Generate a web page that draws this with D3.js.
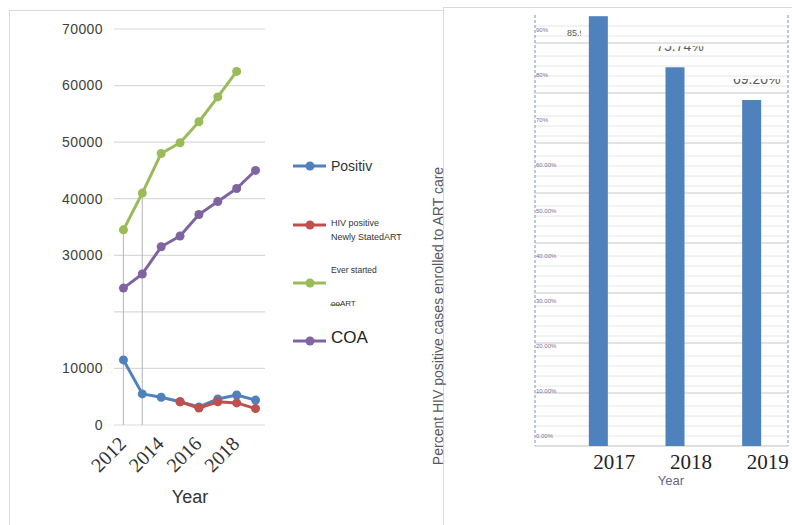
<!DOCTYPE html>
<html>
<head>
<meta charset="utf-8">
<script src="https://cdn.jsdelivr.net/npm/d3@7"></script>
<style>
  body { margin: 0; background: #fff; }
  svg { display: block; font-family: "Liberation Sans", Arial, sans-serif; }
</style>
</head>
<body>
<div id="chart"></div>
<script>
// Left chart data
const years = [2012, 2013, 2014, 2015, 2016, 2017, 2018, 2019];
const positiv = [11500, 5500, 4900, 4100, 3200, 4600, 5300, 4400];
const newlyStarted = [null, null, null, 4100, 3000, 4100, 3900, 2900];
const everStarted = [34500, 41000, 48000, 49900, 53600, 58000, 62500, null];
const coa = [24200, 26700, 31500, 33400, 37200, 39500, 41800, 45000];
const dropYears = [2012, 2013];
const leftTicks = [0, 10000, 30000, 40000, 50000, 60000, 70000];
const gridValues = [0, 10000, 20000, 30000, 40000, 50000, 60000, 70000];
const xTickYears = [2012, 2014, 2016, 2018];

// Right chart data
const barYears = ["2017", "2018", "2019"];
const enrolledPct = [85.96, 75.74, 69.20];
const barLabels = ["85.96%", "75.74%", "69.20%"];
const pctTicks = [0, 10, 20, 30, 40, 50, 60, 70, 80, 90];
const pctTickLabels = ["0.00%", "10.00%", "20.00%", "30.00%", "40.00%", "50.00%", "60.00%", "70%", "80%", "90%"];

const width = 792, height = 525;
const svg = d3.select("#chart").append("svg")
    .attr("width", width)
    .attr("height", height);

// panel frames
svg.append("rect").attr("x", 9.5).attr("y", 10.5).attr("width", 434).attr("height", 530)
    .attr("fill", "none").attr("stroke", "#d9d9d9");
svg.append("rect").attr("x", 443.5).attr("y", 7.5).attr("width", 360).attr("height", 530)
    .attr("fill", "none").attr("stroke", "#d9d9d9");

// ---------- Left line chart ----------
const x = d3.scaleBand().domain(years).range([114, 265]);
const cx = d => x(d) + x.bandwidth() / 2;
const y = d3.scaleLinear().domain([0, 70000]).range([425, 29]);

const left = svg.append("g");

left.selectAll(".grid")
    .data(gridValues)
    .join("line")
    .attr("class", "grid")
    .attr("x1", 114).attr("x2", 265)
    .attr("y1", d => y(d)).attr("y2", d => y(d))
    .attr("stroke", "#d9d9d9").attr("stroke-width", 1.2);

left.selectAll(".ytick")
    .data(leftTicks)
    .join("text")
    .attr("class", "ytick")
    .attr("x", 103)
    .attr("y", d => y(d))
    .attr("dy", "0.35em")
    .attr("text-anchor", "end")
    .attr("font-size", 14)
    .attr("letter-spacing", 0.4)
    .attr("fill", "#404040")
    .text(d => d);

// drop lines from the first green points
left.selectAll(".drop")
    .data(dropYears)
    .join("line")
    .attr("class", "drop")
    .attr("x1", d => cx(d)).attr("x2", d => cx(d))
    .attr("y1", d => y(everStarted[years.indexOf(d)]))
    .attr("y2", y(0))
    .attr("stroke", "#bfbfbf").attr("stroke-width", 1.2);

const series = [
    { name: "Positiv", values: positiv, color: "#4F81BD" },
    { name: "Newly", values: newlyStarted, color: "#C0504D" },
    { name: "Ever", values: everStarted, color: "#9BBB59" },
    { name: "COA", values: coa, color: "#8064A2" }
];

const line = d3.line()
    .defined(d => d.v != null)
    .x(d => cx(d.year))
    .y(d => y(d.v));

series.forEach(s => {
    const pts = years.map((yr, i) => ({ year: yr, v: s.values[i] }));
    left.append("path")
        .datum(pts)
        .attr("d", line)
        .attr("fill", "none")
        .attr("stroke", s.color)
        .attr("stroke-width", 3)
        .attr("stroke-linejoin", "round");
    left.selectAll(null)
        .data(pts.filter(d => d.v != null))
        .join("circle")
        .attr("cx", d => cx(d.year))
        .attr("cy", d => y(d.v))
        .attr("r", 4.5)
        .attr("fill", s.color);
});

// rotated year labels
left.selectAll(".xtick")
    .data(xTickYears)
    .join("text")
    .attr("class", "xtick")
    .attr("transform", d => `translate(${cx(d) + 4},${y(0) + 20}) rotate(-45)`)
    .attr("text-anchor", "end")
    .attr("font-family", "Liberation Serif, serif")
    .attr("font-size", 20)
    .attr("fill", "#333")
    .text(d => d);

left.append("text")
    .attr("x", 190).attr("y", 503)
    .attr("text-anchor", "middle")
    .attr("font-size", 18)
    .attr("fill", "#333")
    .text("Year");

// legend
const legend = svg.append("g");
const legendItems = [
    { color: "#4F81BD", y: 166 },
    { color: "#C0504D", y: 225 },
    { color: "#9BBB59", y: 283 },
    { color: "#8064A2", y: 341 }
];
legendItems.forEach(d => {
    legend.append("line").attr("x1", 293).attr("x2", 326)
        .attr("y1", d.y).attr("y2", d.y)
        .attr("stroke", d.color).attr("stroke-width", 3);
    legend.append("circle").attr("cx", 310).attr("cy", d.y).attr("r", 4.5).attr("fill", d.color);
});
legend.append("text").attr("x", 331).attr("y", 171).attr("font-size", 14).attr("fill", "#333").text("Positiv");
legend.append("text").attr("x", 331).attr("y", 226).attr("font-size", 9).attr("fill", "#333").text("HIV positive");
legend.append("text").attr("x", 331).attr("y", 240).attr("font-size", 9).attr("fill", "#333").text("Newly StatedART");
legend.append("text").attr("x", 331).attr("y", 273).attr("font-size", 8.5).attr("fill", "#333").text("Ever started");
legend.append("line").attr("x1", 330).attr("x2", 341).attr("y1", 305).attr("y2", 305)
    .attr("stroke", "#9BBB59").attr("stroke-width", 1.5);
legend.append("text").attr("x", 331).attr("y", 306).attr("font-size", 8).attr("fill", "#333").text("ooART");
legend.append("text").attr("x", 331).attr("y", 343).attr("font-size", 17).attr("fill", "#222").text("COA");

// ---------- Right bar chart ----------
const right = svg.append("g");
const plotL = 535, plotR = 788, plotT = 15, plotB = 446;

const x2 = d3.scalePoint().domain(barYears).range([560, 790]).padding(0.5);
const y2 = d3.scaleLinear().domain([0, 100]).range([plotB, plotB - 500]);
// the tick labels in the picture sit on their own (uneven) spacing
const yLab = d3.scaleLinear().domain([0, 90]).range([436, 30]);

const minor = d3.range(2, 86, 2).filter(v => v % 10 !== 0);
right.selectAll(".minor")
    .data(minor)
    .join("line")
    .attr("x1", plotL).attr("x2", plotR)
    .attr("y1", d => y2(d)).attr("y2", d => y2(d))
    .attr("stroke", "#e6e6e6").attr("stroke-width", 1);
right.selectAll(".major")
    .data(d3.range(10, 90, 10))
    .join("line")
    .attr("x1", plotL).attr("x2", plotR)
    .attr("y1", d => y2(d) - 3).attr("y2", d => y2(d) - 3)
    .attr("stroke", "#c8c8c8").attr("stroke-width", 1.2);

// dashed side borders, solid base
[plotL, plotR].forEach(px => {
    right.append("line").attr("x1", px).attr("x2", px).attr("y1", plotT).attr("y2", plotB)
        .attr("stroke", "#8fa3c7").attr("stroke-width", 1.2).attr("stroke-dasharray", "3,2");
});
right.append("line").attr("x1", plotL).attr("x2", plotR).attr("y1", plotB).attr("y2", plotB)
    .attr("stroke", "#bfbfbf").attr("stroke-width", 1.2);

right.selectAll(".ptick")
    .data(pctTicks)
    .join("text")
    .attr("x", plotL + 1)
    .attr("y", d => yLab(d))
    .attr("dy", "0.35em")
    .attr("font-size", 6)
    .attr("fill", "#7a6f8f")
    .text((d, i) => pctTickLabels[i]);

// bar value labels (partly hidden, as in the picture)
const defs = svg.append("defs");
barYears.forEach((yr, i) => {
    const top = y2(enrolledPct[i]);
    const bx = x2(yr);
    if (top - 16 < plotT + 10) {
        defs.append("clipPath").attr("id", "clip" + i)
            .append("rect").attr("x", 560).attr("y", top).attr("width", 21).attr("height", 30);
        right.append("text")
            .attr("x", 567).attr("y", top + 20)
            .attr("font-size", 9).attr("fill", "#595959")
            .attr("clip-path", `url(#clip${i})`)
            .text(barLabels[i]);
    } else {
        const base = top - 16;
        defs.append("clipPath").attr("id", "clip" + i)
            .append("rect").attr("x", bx - 40).attr("y", base - 5).attr("width", 90).attr("height", 7);
        right.append("text")
            .attr("x", bx + 5).attr("y", base)
            .attr("text-anchor", "middle")
            .attr("font-size", 14).attr("fill", "#595959")
            .attr("clip-path", `url(#clip${i})`)
            .text(barLabels[i]);
    }
});

right.selectAll(".bar")
    .data(barYears)
    .join("rect")
    .attr("class", "bar")
    .attr("x", d => x2(d) - 9.5)
    .attr("width", 19)
    .attr("y", (d, i) => Math.max(plotT, y2(enrolledPct[i])))
    .attr("height", (d, i) => plotB - Math.max(plotT, y2(enrolledPct[i])))
    .attr("fill", "#4F81BD");

right.selectAll(".btick")
    .data(barYears)
    .join("text")
    .attr("x", d => x2(d) + 16)
    .attr("y", 469)
    .attr("text-anchor", "middle")
    .attr("font-family", "Liberation Serif, serif")
    .attr("font-size", 21)
    .attr("fill", "#222")
    .text(d => d);

right.append("text")
    .attr("x", 671).attr("y", 485)
    .attr("text-anchor", "middle")
    .attr("font-size", 13)
    .attr("fill", "#6b6580")
    .text("Year");

right.append("text")
    .attr("transform", "translate(443,316) rotate(-90)")
    .attr("text-anchor", "middle")
    .attr("font-size", 14)
    .attr("fill", "#595959")
    .text("Percent HIV positive cases enrolled to ART care");
</script>
</body>
</html>
